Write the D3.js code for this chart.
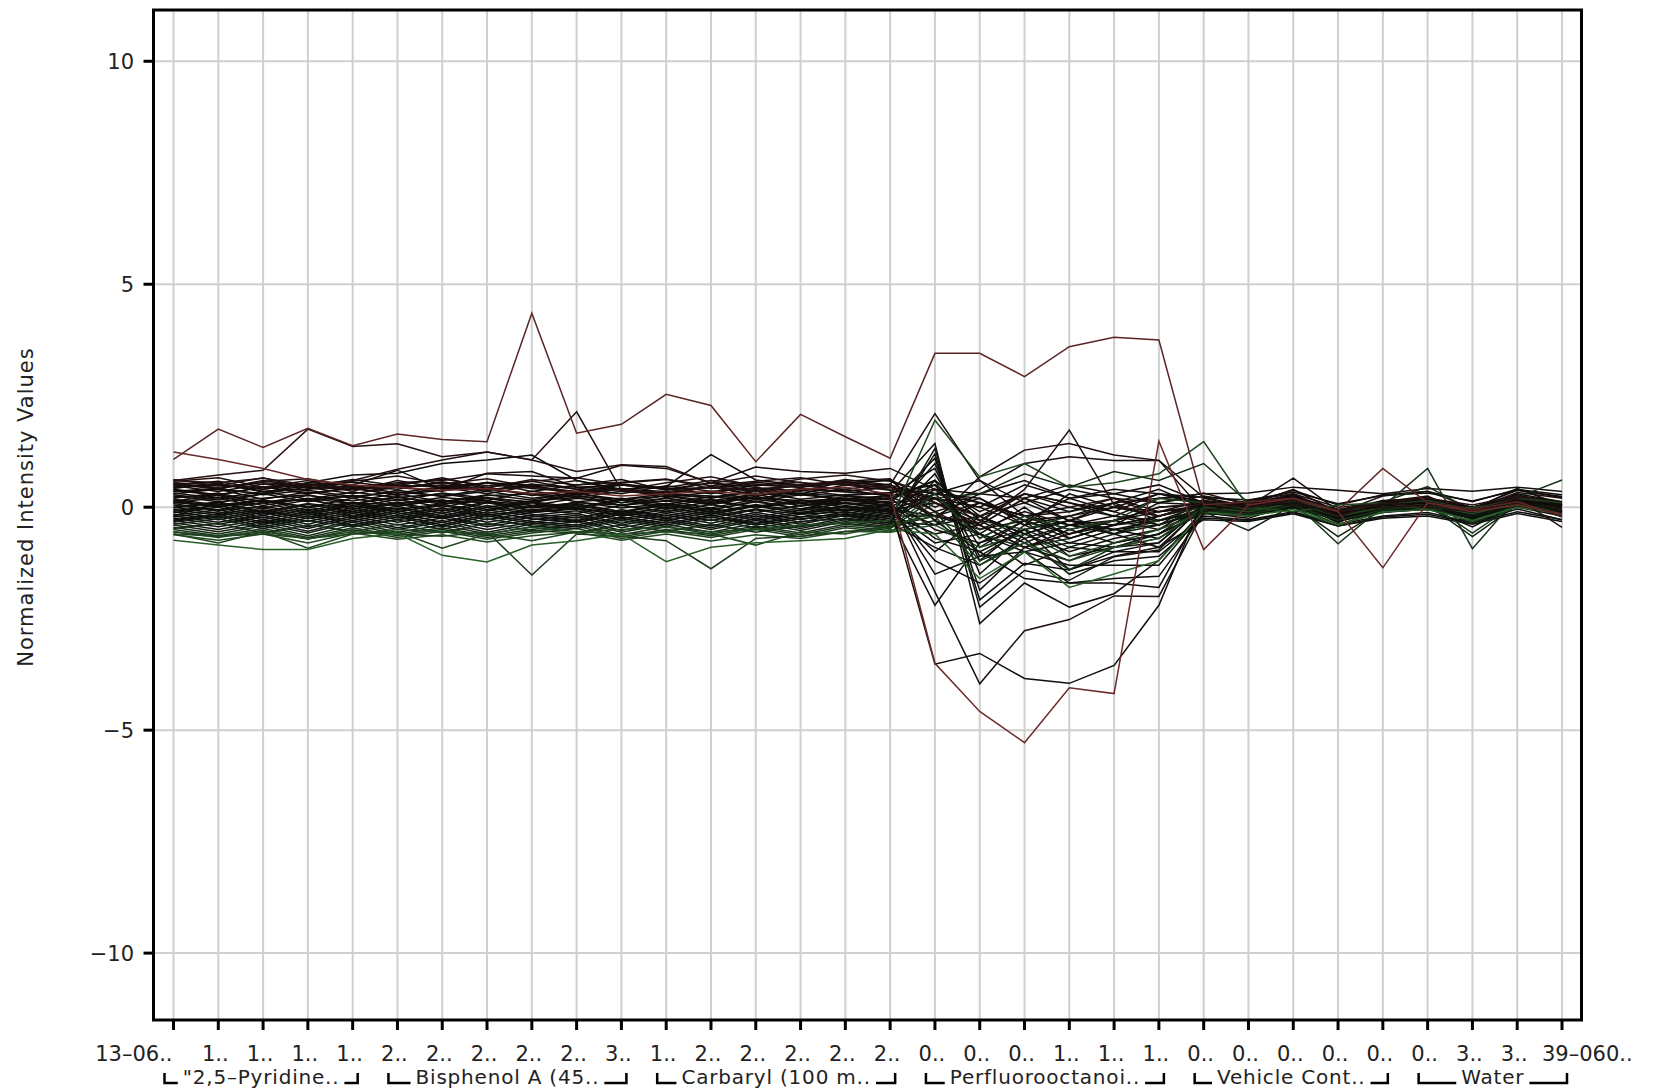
<!DOCTYPE html>
<html>
<head>
<meta charset="utf-8">
<script src="https://cdn.jsdelivr.net/npm/d3@7"></script>
<style>
  html, body { margin: 0; padding: 0; background: #ffffff; }
  svg { display: block; }
  text { font-family: "DejaVu Sans", "Liberation Sans", sans-serif; fill: #222; }
</style>
</head>
<body>
<svg id="chart" width="1667" height="1091"></svg>
<script>
// ---------------- DATA ----------------
const xLabels = ["13-06..","1..","1..","1..","1..","2..","2..","2..","2..","2..","3..",
                 "1..","2..","2..","2..","2..","2..","0..","0..","0..","1..","1..","1..",
                 "0..","0..","0..","0..","0..","0..","3..","3..","39-060.."];
const groupNames = ['"2,5-Pyridine..', 'Bisphenol A (45..', 'Carbaryl (100 m..', 'Perfluorooctanoi..', 'Vehicle Cont..', 'Water'];
const groupFirst = [0, 5, 11, 17, 23, 28];
const groupLast  = [4, 10, 16, 22, 27, 31];
const yTicks = [-10, -5, 0, 5, 10];
const yTitle = "Normalized Intensity Values";

const s01 = [1.07,1.75,1.34,1.77,1.38, 1.64,1.52,1.47,4.35,1.66,1.86, 2.53,2.28,1.02,2.08,1.58,1.10, 3.45,3.45,2.93,3.60,3.81,3.75, 0.05,0.12,0.20,-0.08,0.87, 0.10,-0.05,0.12,-0.20];
const s02 = [1.24,1.07,0.87,0.62,0.50, 0.45,0.38,0.42,0.30,0.35,0.25, 0.30,0.35,0.28,0.40,0.45,0.30, -3.50,-4.58,-5.28,-4.05,-4.18,1.48, -0.95,0.05,0.20,-0.10,-1.36, 0.10,-0.10,0.05,-0.15];
const s03 = [0.60,0.72,0.83,1.75,1.36, 1.42,1.13,1.24,1.06,2.14,0.38, 0.30,0.45,0.35,0.50,0.55,0.40, -0.20,-0.35,0.40,1.73,0.05,-0.20, 0.10,0.00,0.15,-0.20,0.10, 0.00,-0.10,0.20,-0.45];
const s04 = [0.10,0.05,0.15,0.00,0.10, 0.05,0.15,0.10,0.00,0.10,0.05, 0.15,0.10,0.20,0.15,0.10,0.05, -3.52,-3.28,-3.84,-3.95,-3.55,-2.20, 0.20,0.00,0.10,-0.15,0.05, 0.10,-0.05,0.15,-0.10];
const s05 = [0.55,0.50,0.45,0.50,0.40, 0.45,0.50,0.40,0.45,0.35,0.40, 0.35,0.45,0.40,0.50,0.60,0.20, -1.90,-3.96,-2.77,-2.52,-1.99,-2.00, -0.10,0.10,0.05,-0.10,0.00, 0.05,-0.05,0.10,-0.05];
const s06 = [-0.60,-0.65,-0.55,-0.70,-0.60, -0.50,-0.55,-0.60,-0.45,-0.55,-0.50, -0.45,-0.55,-0.50,-0.40,-0.35,-0.30, 1.95,0.68,0.98,0.45,0.55,0.75, 1.47,0.00,-0.10,0.05,0.10, -0.05,0.00,0.10,-0.05];
const s07 = [-0.74,-0.85,-0.95,-0.95,-0.70, -0.59,-1.08,-1.23,-0.85,-0.75,-0.60, -1.22,-0.90,-0.80,-0.75,-0.70,-0.50, -0.60,-1.60,-1.00,-1.80,-1.50,-1.20, -0.10,-0.20,-0.05,-0.40,-0.10, -0.05,-0.30,0.00,-0.15];
const s08 = [-0.55,-0.65,-0.60,-0.70,-0.55, -0.60,-0.65,-0.55,-1.52,-0.60,-0.65, -0.75,-1.38,-0.70,-0.65,-0.55,-0.45, 0.30,-0.70,-0.20,-0.50,-0.30,0.20, 0.10,-0.05,0.15,-0.10,0.05, 0.15,-0.05,0.20,0.10];
const s09 = [-0.60,-0.80,-0.55,-0.92,-0.60, -0.55,-0.92,-0.60,-0.75,-0.55,-0.60, -0.55,-0.60,-0.85,-0.55,-0.60,-0.40, -0.20,-1.30,-0.80,-1.20,-0.90,-0.70, 0.00,-0.10,0.10,-0.20,0.00, 0.05,-0.15,0.10,-0.05];
const s10 = [0.60,0.55,0.65,0.50,0.60, 0.85,1.06,1.24,1.06,0.80,0.95, 0.91,0.53,0.70,0.55,0.50,0.45, 0.10,-0.20,0.30,0.00,0.20,-0.20, 0.10,0.05,0.20,-0.05,0.10, 0.20,0.05,0.25,0.10];
const s11 = [-0.20,0.10,0.30,0.55,0.72, 0.76,0.98,1.06,1.17,0.60,0.40, 0.30,0.25,0.20,0.30,0.25,0.20, 0.60,-0.20,-0.60,-0.30,-0.40,0.10, 0.05,0.00,0.15,-0.10,0.05, 0.10,-0.05,0.42,0.05];
const s12 = [0.35,0.40,0.30,0.45,0.40, 0.50,0.45,0.55,0.50,0.45,0.40, 0.46,1.18,0.61,0.50,0.55,0.60, -0.10,0.20,-0.40,-0.20,0.00,0.30, 0.05,0.00,0.20,-0.10,0.05, 0.10,0.00,0.20,0.05];
const s13 = [0.50,0.45,0.55,0.50,0.45, 0.55,0.60,0.75,0.70,0.65,0.94, 0.87,0.55,0.90,0.80,0.76,0.87, 0.40,-0.40,0.20,-0.30,0.00,-0.10, 0.15,0.05,0.30,0.00,0.10, 0.20,0.00,0.25,0.10];
const s14 = [0.45,0.50,0.40,0.55,0.50, 0.83,0.40,0.76,0.80,0.45,0.50, 0.40,0.45,0.50,0.45,0.55,0.50, 0.20,0.00,0.50,0.20,0.30,0.50, 0.10,0.00,0.25,-0.05,0.10, 0.15,0.00,0.20,0.05];

const b01 = [0.62,0.48,0.66,0.42,0.58, 0.70,0.52,0.64,0.45,0.60,0.38, 0.55,0.68,0.47,0.63,0.72,0.58, 0.30,0.10,-0.20,-0.10,0.20,0.10, 0.32,0.05,0.40,-0.12,0.25, 0.36,-0.02,0.38,0.22];
const b02 = [0.58,0.66,0.45,0.60,0.40, 0.52,0.63,0.48,0.58,0.66,0.50, 0.44,0.60,0.52,0.45,0.62,0.50, 2.10,0.60,-0.20,-0.40,-0.30,-0.50, 0.10,-0.15,0.22,-0.28,0.15, 0.05,-0.25,0.18,0.02];
const b03 = [0.55,0.42,0.58,0.64,0.46, 0.40,0.57,0.43,0.62,0.50,0.56, 0.63,0.42,0.56,0.48,0.40,0.52, -0.30,0.68,1.28,1.43,1.17,1.05, -0.10,0.15,0.30,-0.18,0.12, 0.25,-0.20,0.28,-0.12];
const b04 = [0.50,0.58,0.40,0.52,0.36, 0.60,0.42,0.55,0.35,0.50,0.62, 0.38,0.55,0.44,0.36,0.57,0.46, 0.00,0.40,0.98,1.13,1.05,1.05, 0.22,0.02,0.65,-0.08,0.15, 0.18,-0.05,0.33,0.20];
const b05 = [0.48,0.35,0.52,0.44,0.30, 0.45,0.55,0.38,0.48,0.34,0.52, 0.42,0.30,0.50,0.56,0.36,0.44, 0.30,0.20,-0.30,-0.20,0.10,0.20, 0.30,0.32,0.45,0.38,0.30, 0.42,0.36,0.45,0.35];
const b06 = [0.45,0.52,0.36,0.40,0.48, 0.32,0.46,0.38,0.52,0.40,0.30, 0.48,0.36,0.42,0.30,0.50,0.38, 0.20,-0.50,-0.10,-0.40,-0.20,-0.30, 0.05,-0.20,0.18,-0.30,0.05, 0.02,-0.25,0.12,0.10];
const b07 = [0.40,0.28,0.45,0.32,0.42, 0.28,0.38,0.44,0.26,0.36,0.42, 0.30,0.45,0.26,0.40,0.34,0.28, 0.87,-1.20,-0.40,-0.80,-0.50,-0.30, -0.05,0.12,0.25,-0.22,0.05, 0.20,-0.18,0.22,-0.05];
const b08 = [0.36,0.42,0.28,0.38,0.24, 0.34,0.25,0.40,0.30,0.22,0.36, 0.28,0.22,0.38,0.27,0.40,0.24, -0.20,0.10,-0.30,0.20,-0.10,-0.40, 0.15,-0.10,0.28,-0.15,0.10, 0.22,-0.08,0.30,0.12];
const b09 = [0.32,0.20,0.35,0.18,0.34, 0.22,0.30,0.15,0.36,0.24,0.18, 0.30,0.20,0.35,0.18,0.28,0.33, 1.43,-2.61,-1.70,-2.24,-1.94,-1.19, -0.05,-0.20,0.12,-0.32,0.02, 0.10,-0.28,0.08,-0.18];
const b10 = [0.28,0.16,0.30,0.12,0.26, 0.14,0.32,0.20,0.12,0.30,0.18, 0.25,0.10,0.28,0.32,0.14,0.20, -0.50,-0.80,-0.30,-1.10,-0.90,-0.80, 0.08,0.00,0.22,-0.25,0.12, 0.15,-0.15,0.25,0.05];
const b11 = [0.25,0.12,0.20,0.28,0.08, 0.22,0.10,0.26,0.30,0.12,0.20, 0.06,0.24,0.12,0.28,0.18,0.08, -0.70,-1.00,-1.60,-1.70,-1.60,-1.55, -0.15,-0.05,0.18,-0.30,-0.10, 0.00,-0.20,0.15,-0.22];
const b12 = [0.22,0.28,0.12,0.18,0.26, 0.08,0.22,0.14,0.04,0.20,0.10, 0.20,0.05,0.24,0.10,0.18,0.26, 0.40,0.30,0.20,0.50,0.30,0.10, 0.25,0.10,0.38,0.05,0.28, 0.35,0.12,0.40,0.28];
const b13 = [0.18,0.05,0.16,0.00,0.20, 0.02,0.16,0.00,0.14,0.22,0.04, 0.14,-0.02,0.18,0.04,0.20,0.12, -1.50,-1.10,-1.00,-1.70,-1.70,-1.80, 0.02,-0.18,0.10,-0.35,0.05, 0.08,-0.22,0.12,-0.15];
const b14 = [0.15,0.02,0.10,0.18,-0.04, 0.10,0.16,-0.05,0.12,0.00,0.18, -0.04,0.12,0.02,0.16,0.00,-0.06, 0.10,-0.30,0.30,0.10,-0.20,0.20, 0.12,-0.12,0.24,-0.20,0.10, 0.18,-0.10,0.22,0.05];
const b15 = [0.12,0.00,0.16,-0.08,0.10, -0.05,0.08,0.15,-0.10,0.12,-0.02, 0.08,-0.06,0.14,-0.04,0.16,0.02, -1.20,-1.70,-1.00,-1.30,-1.30,-1.30, -0.12,-0.25,0.08,-0.32,-0.10, -0.05,-0.25,0.00,-0.20];
const b16 = [0.08,-0.06,0.10,-0.12,0.04, -0.10,0.06,-0.08,0.10,-0.04,-0.12, 0.06,-0.10,0.02,0.10,-0.08,0.08, 1.10,-1.86,-0.90,-1.20,-0.80,-0.60, 0.05,-0.12,0.16,-0.18,0.08, 0.14,-0.12,0.20,0.10];
const b17 = [0.05,-0.08,0.02,-0.14,0.08, -0.10,0.04,-0.14,0.02,0.08,-0.10, 0.04,-0.12,0.06,-0.08,0.10,-0.04, -0.20,0.30,0.60,0.20,0.40,0.30, 0.22,0.16,0.34,0.08,0.26, 0.32,0.14,0.38,0.24];
const b18 = [0.00,-0.14,-0.02,-0.18,0.04, -0.16,-0.02,-0.18,-0.06,0.04,-0.14, -0.02,-0.16,0.02,-0.12,0.04,-0.08, -0.80,-0.60,-1.30,-0.90,-1.00,-1.00, -0.20,-0.28,-0.10,-0.38,-0.20, -0.12,-0.34,-0.04,-0.28];
const b19 = [-0.05,-0.18,-0.06,-0.22,-0.02, -0.20,-0.06,-0.22,-0.08,0.00,-0.20, -0.06,-0.20,-0.04,-0.16,0.00,-0.12, 0.20,-0.20,0.10,0.40,0.20,-0.10, 0.00,-0.10,0.12,-0.22,0.02, 0.08,-0.15,0.12,-0.08];
const b20 = [-0.10,-0.24,-0.08,-0.26,-0.06, -0.24,-0.10,-0.28,-0.12,-0.04,-0.26, -0.10,-0.24,-0.06,-0.22,-0.04,-0.16, 0.98,-1.50,-0.60,-1.00,-0.70,-0.50, -0.08,-0.18,0.05,-0.26,-0.08, -0.02,-0.20,0.04,-0.14];
const b21 = [-0.15,-0.28,-0.12,-0.32,-0.10, -0.28,-0.14,-0.34,-0.18,-0.08,-0.30, -0.14,-0.30,-0.12,-0.28,-0.10,-0.22, -2.20,-0.80,-0.50,-0.30,-0.60,-0.90, -0.28,-0.32,-0.15,-0.42,-0.25, -0.20,-0.38,-0.14,-0.32];
const b22 = [-0.20,-0.34,-0.18,-0.38,-0.14, -0.34,-0.20,-0.40,-0.22,-0.14,-0.36, -0.18,-0.36,-0.16,-0.34,-0.14,-0.26, 0.75,-0.90,-0.30,-0.60,-0.40,-0.20, 0.02,-0.12,0.14,-0.20,0.04, 0.12,-0.14,0.16,-0.04];
const b23 = [-0.25,-0.38,-0.22,-0.44,-0.20, -0.40,-0.24,-0.44,-0.28,-0.18,-0.40, -0.24,-0.42,-0.20,-0.38,-0.18,-0.32, -0.40,-0.20,-0.60,-0.30,-0.50,-0.40, -0.10,-0.18,0.04,-0.28,-0.08, -0.02,-0.44,0.06,-0.16];
const b24 = [-0.30,-0.44,-0.28,-0.48,-0.24, -0.46,-0.30,-0.50,-0.34,-0.22,-0.46, -0.28,-0.46,-0.26,-0.44,-0.24,-0.36, 1.20,-2.08,-1.26,-1.41,-1.00,-0.80, 0.04,-0.10,0.14,-0.22,0.00, 0.06,-0.18,0.12,-0.08];
const b25 = [-0.35,-0.50,-0.32,-0.54,-0.30, -0.50,-0.34,-0.56,-0.38,-0.28,-0.52, -0.32,-0.50,-0.30,-0.48,-0.28,-0.40, 1.32,-2.24,-1.42,-1.64,-1.11,-0.96, 0.06,-0.14,0.16,-0.24,0.02, 0.12,-0.16,0.18,0.00];
const b26 = [-0.40,-0.55,-0.38,-0.58,-0.34, -0.56,-0.40,-0.60,-0.44,-0.32,-0.56, -0.38,-0.56,-0.36,-0.52,-0.32,-0.44, -0.20,-0.50,-0.30,-0.70,-0.40,-0.30, -0.10,-0.52,0.05,-0.66,-0.05, 0.05,-0.66,0.05,-0.12];
const b27 = [-0.45,-0.60,-0.42,-0.64,-0.40, -0.60,-0.46,-0.64,-0.50,-0.38,-0.62, -0.44,-0.60,-0.42,-0.58,-0.38,-0.48, 0.20,0.30,0.75,0.45,0.80,0.60, 0.98,0.10,0.22,-0.10,0.12, 0.46,-0.08,0.22,0.05];
const b28 = [-0.50,-0.64,-0.48,-0.68,-0.46, -0.64,-0.50,-0.68,-0.54,-0.42,-0.66, -0.50,-0.64,-0.46,-0.62,-0.42,-0.52, -0.30,-0.60,-0.90,-0.70,-0.40,-0.20, 0.00,-0.08,0.12,-0.82,0.02, 0.87,-0.93,0.22,0.61];
const b29 = [-0.55,-0.68,-0.52,-0.72,-0.50, -0.68,-0.54,-0.72,-0.58,-0.48,-0.70, -0.54,-0.68,-0.50,-0.66,-0.46,-0.56, 0.10,-0.30,-0.50,-0.20,-0.60,-0.30, -0.05,-0.14,0.06,-0.40,-0.06, 0.10,-0.58,0.10,0.00];
const b30 = [0.30,0.40,0.18,0.34,0.20, 0.38,0.24,0.36,0.20,0.32,0.40, 0.22,0.34,0.18,0.38,0.26,0.32, 0.50,-0.10,0.30,0.10,-0.10,0.30, 0.12,0.02,0.28,-0.10,0.14, 0.20,0.00,0.26,0.12];
const b31 = [0.10,0.22,-0.02,0.16,0.00, 0.18,0.00,0.20,0.04,-0.04,0.16, 0.02,0.18,-0.02,0.14,0.20,0.02, -0.40,0.10,-0.20,-0.60,-0.30,0.00, 0.08,-0.04,0.20,-0.14,0.08, 0.14,-0.08,0.18,0.02];
const b32 = [-0.02,0.10,-0.14,0.06,-0.10, 0.08,-0.14,0.10,-0.06,-0.14,0.04, -0.10,0.06,-0.12,0.04,0.10,-0.08, 0.30,0.60,0.10,-0.30,0.10,0.40, -0.02,-0.12,0.10,-0.24,-0.02, 0.04,-0.18,0.10,-0.10];
const b33 = [-0.12,0.00,-0.24,-0.04,-0.20, -0.02,-0.24,0.00,-0.16,-0.24,-0.06, -0.20,-0.02,-0.22,-0.06,0.00,-0.16, -0.60,-0.40,-0.90,-0.50,-0.80,-0.60, -0.14,-0.20,-0.02,-0.28,-0.12, -0.04,-0.24,0.02,-0.18];
const b34 = [-0.22,-0.10,-0.34,-0.14,-0.30, -0.12,-0.34,-0.10,-0.26,-0.34,-0.16, -0.30,-0.12,-0.30,-0.16,-0.10,-0.26, 0.40,0.10,-0.20,0.00,-0.20,-0.40, -0.06,-0.10,0.08,-0.26,-0.06, 0.06,-0.16,0.10,-0.08];
const b35 = [-0.32,-0.20,-0.44,-0.24,-0.40, -0.22,-0.44,-0.20,-0.36,-0.44,-0.26, -0.40,-0.22,-0.40,-0.26,-0.20,-0.36, -0.90,-1.30,-0.70,-1.50,-1.20,-1.10, -0.24,-0.30,-0.12,-0.42,-0.22, -0.16,-0.36,-0.10,-0.28];
const b36 = [-0.62,-0.74,-0.60,-0.80,-0.58, -0.72,-0.62,-0.78,-0.64,-0.56,-0.74, -0.60,-0.76,-0.62,-0.70,-0.54,-0.56, -0.40,-0.90,-0.60,-1.10,-0.80,-0.50, -0.12,-0.20,0.00,-0.38,-0.12, 0.00,-0.32,0.06,-0.12];
const b37 = [0.42,0.54,0.34,0.48,0.56, 0.44,0.36,0.56,0.42,0.34,0.50, 0.40,0.54,0.36,0.50,0.58,0.64, -0.30,-1.00,-0.50,-1.40,-1.10,-0.90, 0.02,-0.06,0.22,-0.14,0.06, 0.12,-0.10,0.16,-0.02];
const b38 = [0.20,0.32,0.10,0.26,0.14, 0.30,0.12,0.28,0.16,0.34,0.10, 0.26,0.14,0.30,0.08,0.24,0.16, 0.60,-0.30,-0.80,-0.40,-0.60,-0.20, 0.10,0.00,0.24,-0.08,0.12, 0.18,-0.06,0.24,0.08];
const b39 = [0.00,0.12,-0.10,0.08,-0.04, 0.10,-0.08,0.12,-0.02,0.06,-0.10, 0.08,-0.06,0.12,-0.04,0.08,0.00, 0.50,-0.70,-0.20,-0.50,-0.30,-0.10, 0.04,-0.08,0.16,-0.16,0.04, 0.10,-0.12,0.14,0.00];
const b40 = [-0.18,-0.06,-0.28,-0.10,-0.24, -0.08,-0.26,-0.06,-0.20,-0.30,-0.12, -0.24,-0.08,-0.26,-0.12,-0.06,-0.20, -0.20,-0.40,0.20,-0.10,0.10,-0.30, -0.08,-0.16,0.02,-0.24,-0.06, 0.02,-0.20,0.04,-0.12];
const b41 = [-0.38,-0.26,-0.48,-0.30,-0.44, -0.28,-0.50,-0.26,-0.42,-0.48,-0.30, -0.44,-0.28,-0.46,-0.32,-0.26,-0.40, 0.60,-1.10,-0.50,-0.90,-0.60,-0.40, -0.04,-0.12,0.06,-0.22,-0.04, 0.04,-0.22,0.08,-0.06];
const b42 = [0.38,0.26,0.46,0.30,0.44, 0.26,0.44,0.30,0.48,0.28,0.40, 0.32,0.46,0.28,0.42,0.36,0.46, -0.10,-0.60,0.00,-0.70,-0.40,-0.20, 0.06,-0.06,0.20,-0.12,0.08, 0.16,-0.04,0.22,0.06];
const b43 = [0.52,0.40,0.60,0.46,0.62, 0.48,0.66,0.44,0.58,0.40,0.54, 0.62,0.48,0.58,0.66,0.50,0.62, 0.10,-0.40,-0.90,-0.60,-0.30,0.00, 0.08,-0.02,0.24,-0.10,0.10, 0.20,-0.02,0.26,0.08];
const b44 = [-0.08,0.04,-0.18,0.00,-0.14, 0.02,-0.20,0.04,-0.12,-0.02,-0.18, 0.00,-0.16,0.04,-0.14,0.02,-0.10, -1.00,-0.20,-0.70,-0.40,-0.50,-0.70, -0.06,-0.14,0.04,-0.22,-0.06, 0.02,-0.18,0.08,-0.10];
const b45 = [-0.28,-0.16,-0.38,-0.20,-0.34, -0.18,-0.40,-0.16,-0.32,-0.40,-0.22, -0.36,-0.18,-0.36,-0.22,-0.16,-0.30, 0.30,-0.60,-1.00,-0.80,-0.90,-0.60, -0.10,-0.18,0.00,-0.26,-0.08, -0.02,-0.24,0.02,-0.14];
const b46 = [-0.48,-0.36,-0.58,-0.40,-0.54, -0.38,-0.58,-0.36,-0.52,-0.58,-0.40, -0.54,-0.38,-0.56,-0.42,-0.36,-0.46, -0.10,-1.20,-0.80,-1.40,-0.90,-0.70, -0.06,-0.16,0.04,-0.30,-0.06, 0.04,-0.36,0.06,-0.10];
const b47 = [0.14,0.26,0.04,0.20,0.08, 0.24,0.06,0.22,0.10,0.28,0.04, 0.20,0.08,0.24,0.02,0.18,0.10, 0.20,0.00,-0.40,0.30,0.00,-0.20, 0.10,0.02,0.20,-0.06,0.10, 0.16,-0.04,0.20,0.06];

const series = [b01,b02,b03,b04,b05,b06,b07,b08,b09,b10,b11,b12,b13,b14,b15,b16,b17,b18,b19,b20,
                b21,b22,b23,b24,b25,b26,b27,b28,b29,b30,b31,b32,b33,b34,b35,b36,b37,b38,b39,b40,
                b41,b42,b43,b44,b45,b46,b47,
                s14,s13,s12,s11,s10,s09,s08,s07,s06,s05,s04,s03,s02,s01];

// ---------------- CHART ----------------
const svg = d3.select("#chart");
const plot = { left: 153.5, right: 1581.5, top: 10, bottom: 1020 };

const x = d3.scalePoint().domain(d3.range(xLabels.length)).range([173.5, 1562]);
const y = d3.scaleLinear().domain([-11.5, 11.15]).range([plot.bottom, plot.top]);
const color = d3.scaleLinear().domain([-0.8, -0.3, 0.45, 1.2])
  .range(["#2e6a2e", "#0c100c", "#140b0b", "#6a2a2a"]).clamp(true);

// grid
const grid = svg.append("g");
grid.selectAll("line.v").data(d3.range(xLabels.length)).join("line")
  .attr("x1", d => x(d)).attr("x2", d => x(d))
  .attr("y1", plot.top).attr("y2", plot.bottom)
  .attr("stroke", "#cfcfcf").attr("stroke-width", 2);
grid.selectAll("line.h").data(yTicks).join("line")
  .attr("x1", plot.left).attr("x2", plot.right)
  .attr("y1", d => y(d)).attr("y2", d => y(d))
  .attr("stroke", "#cfcfcf").attr("stroke-width", 2);

// profile lines
const line = d3.line().x((d, i) => x(i)).y(d => y(d));
svg.append("g").selectAll("path").data(series).join("path")
  .attr("d", line)
  .attr("fill", "none")
  .attr("stroke", d => color(d[0]))
  .attr("stroke-width", 1.5);

// frame
svg.append("rect")
  .attr("x", plot.left).attr("y", plot.top)
  .attr("width", plot.right - plot.left).attr("height", plot.bottom - plot.top)
  .attr("fill", "none").attr("stroke", "#000").attr("stroke-width", 3);

// y axis ticks
const yAx = svg.append("g");
yAx.selectAll("line").data(yTicks).join("line")
  .attr("x1", plot.left - 10).attr("x2", plot.left)
  .attr("y1", d => y(d)).attr("y2", d => y(d))
  .attr("stroke", "#000").attr("stroke-width", 3);
yAx.selectAll("text").data(yTicks).join("text")
  .attr("x", 134).attr("y", d => y(d)).attr("dy", "0.36em")
  .attr("text-anchor", "end").attr("font-size", 21)
  .text(d => d < 0 ? "\u2212" + Math.abs(d) : d);

// y title
svg.append("text")
  .attr("transform", "translate(33,507) rotate(-90)")
  .attr("text-anchor", "middle").attr("font-size", 21)
  .attr("letter-spacing", 1)
  .text(yTitle);

// x axis ticks
const xAx = svg.append("g");
xAx.selectAll("line").data(d3.range(xLabels.length)).join("line")
  .attr("x1", d => x(d)).attr("x2", d => x(d))
  .attr("y1", plot.bottom).attr("y2", plot.bottom + 10)
  .attr("stroke", "#000").attr("stroke-width", 3);
const last = xLabels.length - 1;
xAx.selectAll("text").data(xLabels).join("text")
  .attr("x", (d, i) => i === 0 ? x(i) - 1 : i === last ? x(i) - 20 : x(i) - 3)
  .attr("y", 1061)
  .attr("text-anchor", (d, i) => i === 0 ? "end" : i === last ? "start" : "middle")
  .attr("font-size", 21)
  .text(d => d.replace("-", "\u2013"));

// group labels with brackets
const gy = 1084;
const gAx = svg.append("g");
groupNames.forEach((name, k) => {
  const x1 = x(groupFirst[k]) - 9;
  const x2 = x(groupLast[k]) + 5;
  const cx = (x1 + x2) / 2;
  const t = gAx.append("text")
    .attr("x", cx).attr("y", gy)
    .attr("text-anchor", "middle").attr("font-size", 20)
    .attr("letter-spacing", 0.8)
    .text(name.replace("-", "\u2013"));
  const w = t.node().getComputedTextLength();
  const tl = cx - w / 2 - 5, tr = cx + w / 2 + 5;
  const by = gy - 1;
  gAx.append("path")
    .attr("d", `M${x1},${by - 10}V${by}H${Math.max(x1 + 8, tl)}`)
    .attr("fill", "none").attr("stroke", "#000").attr("stroke-width", 2.5);
  gAx.append("path")
    .attr("d", `M${x2},${by - 10}V${by}H${Math.min(x2 - 8, tr)}`)
    .attr("fill", "none").attr("stroke", "#000").attr("stroke-width", 2.5);
});
</script>
</body>
</html>
